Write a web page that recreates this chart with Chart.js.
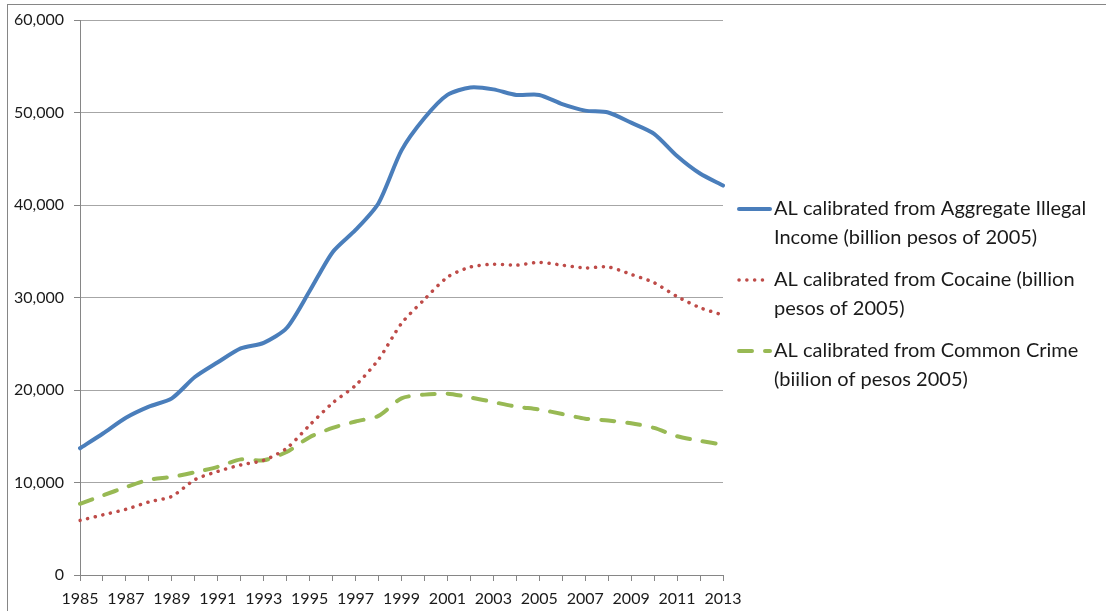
<!DOCTYPE html>
<html>
<head>
<meta charset="utf-8">
<script src="https://cdn.jsdelivr.net/npm/chart.js@4"></script>
<style>
    html, body { margin: 0; padding: 0; background: #fff; }
    #wrap { position: relative; width: 1106px; height: 611px; overflow: hidden; }
    #frame { position: absolute; left: 7px; top: 4px; width: 1200px; height: 700px; border: 1px solid #868686; box-sizing: border-box; pointer-events: none; }
    canvas { position: absolute; left: 0; top: 0; }
</style>
</head>
<body>
<div id="wrap">
    <canvas id="chart" width="1106" height="611"></canvas>
    <div id="frame"></div>
</div>
<script>
// years on the x axis
const years = [];
for (let y = 1985; y <= 2013; y++) years.push(String(y));

// values (billion pesos of 2005)
const aggregateIncome = [13700, 15300, 17000, 18200, 19100, 21400, 23000, 24500, 25100, 26700,
    30700, 34900, 37300, 40200, 45900, 49400, 51900, 52700, 52500, 51900,
    51900, 50900, 50200, 50000, 48900, 47700, 45300, 43400, 42100];
const cocaine = [5900, 6500, 7100, 7900, 8500, 10300, 11200, 11900, 12400, 13700,
    16200, 18600, 20500, 23300, 27200, 29800, 32200, 33300, 33600, 33500,
    33800, 33500, 33200, 33300, 32500, 31600, 30100, 28900, 28100];
const commonCrime = [7700, 8600, 9500, 10300, 10600, 11100, 11700, 12500, 12400, 13300,
    14900, 15900, 16600, 17200, 19100, 19500, 19600, 19200, 18700, 18200,
    17900, 17400, 16900, 16700, 16400, 15900, 15000, 14500, 14100];

const seriesLabels = [
    ['AL calibrated from Aggregate Illegal', 'Income (billion pesos of 2005)'],
    ['AL calibrated from Cocaine (billion', 'pesos of 2005)'],
    ['AL calibrated from Common Crime', '(biilion of pesos 2005)'],
];

const yTicks = [0, 10000, 20000, 30000, 40000, 50000, 60000];

const colors = {
    blue: '#4A7EBB',
    red: '#BE4B48',
    green: '#98B954',
    axis: '#868686',
    grid: '#a6a6a6',
    text: '#1a1a1a',
};

const font = 'Lato, "Open Sans", sans-serif';

// legend drawn on the right, with the labels wrapped like the original
const sideLegend = {
    id: 'sideLegend',
    afterDraw(chart) {
        const ctx = chart.ctx;
        const rowsY = [209, 280, 351];
        chart.data.datasets.forEach((ds, i) => {
            const y = rowsY[i];
            ctx.save();
            ctx.strokeStyle = ds.borderColor;
            ctx.lineWidth = ds.borderWidth;
            ctx.lineCap = ds.borderCapStyle || 'butt';
            ctx.setLineDash(ds.borderDash || []);
            ctx.beginPath();
            ctx.moveTo(739, y);
            ctx.lineTo(770, y);
            ctx.stroke();
            ctx.setLineDash([]);
            ctx.fillStyle = colors.text;
            ctx.font = '20px ' + font;
            ctx.textBaseline = 'middle';
            seriesLabels[i].forEach((line, j) => {
                ctx.fillText(line, 774, y + j * 29);
            });
            ctx.restore();
        });
    }
};

function initChart() {
    new Chart(document.getElementById('chart'), {
        type: 'line',
        data: {
            labels: years,
            datasets: [
                {
                    label: seriesLabels[0].join(' '),
                    data: aggregateIncome,
                    borderColor: colors.blue,
                    borderWidth: 4,
                    borderCapStyle: 'round',
                    tension: 0.25,
                },
                {
                    label: seriesLabels[1].join(' '),
                    data: cocaine,
                    borderColor: colors.red,
                    borderWidth: 3.5,
                    borderDash: [0.1, 7.7],
                    borderCapStyle: 'round',
                    tension: 0.25,
                },
                {
                    label: seriesLabels[2].join(' '),
                    data: commonCrime,
                    borderColor: colors.green,
                    borderWidth: 4,
                    borderDash: [13, 13],
                    borderCapStyle: 'round',
                    tension: 0.25,
                },
            ]
        },
        options: {
            responsive: false,
            animation: false,
            devicePixelRatio: 1,
            elements: { point: { radius: 0 } },
            layout: { padding: { left: 0, right: 383, top: 20, bottom: 0 } },
            plugins: {
                legend: { display: false },
                tooltip: { enabled: false },
            },
            scales: {
                x: {
                    offset: false,
                    grid: {
                        drawOnChartArea: false,
                        drawTicks: true,
                        tickLength: 6,
                        color: colors.axis,
                    },
                    border: { color: colors.axis, width: 1 },
                    ticks: {
                        autoSkip: false,
                        maxRotation: 0,
                        padding: 8,
                        color: colors.text,
                        font: { family: font, size: 16 },
                        callback: (v, i) => (i % 2 === 0 ? years[i] : ''),
                    },
                    afterFit: (scale) => { scale.height = 36; },
                },
                y: {
                    min: 0,
                    max: 60000,
                    afterBuildTicks: (scale) => { scale.ticks = yTicks.map(v => ({ value: v })); },
                    grid: {
                        color: colors.grid,
                        tickLength: 6,
                        tickColor: colors.axis,
                    },
                    border: { color: colors.axis, width: 1 },
                    ticks: {
                        padding: 10,
                        color: colors.text,
                        font: { family: font, size: 16 },
                        callback: (v) => v.toLocaleString('en-US'),
                    },
                    afterFit: (scale) => { scale.width = 80; },
                },
            },
        },
        plugins: [sideLegend],
    });
}

window.addEventListener('load', initChart);
</script>
</body>
</html>
